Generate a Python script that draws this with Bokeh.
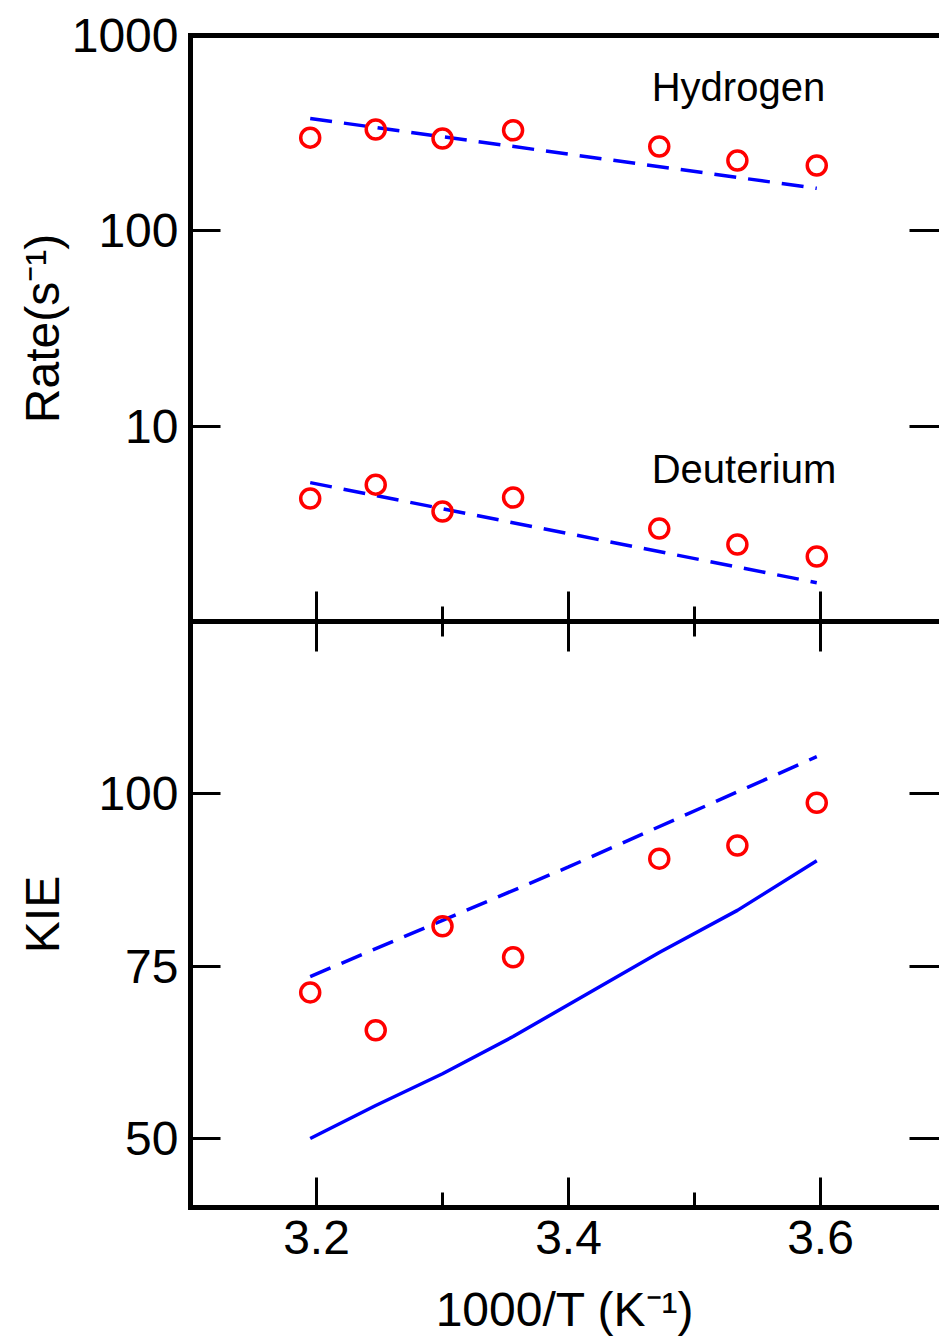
from bokeh.plotting import figure
from bokeh.layouts import column
from bokeh.models import (FixedTicker, CustomJSTickFormatter, LinearAxis, LogAxis,
                          Label, Range1d)
from bokeh.embed import file_html
from bokeh.resources import INLINE

# ---------------- data ----------------
inv_T = [3.195, 3.247, 3.300, 3.356, 3.472, 3.534, 3.597]          # 1000/T (K^-1)
rate_H = [300, 330, 297, 327, 270, 229, 216]                         # s^-1, observed
rate_D = [4.26, 5.02, 3.66, 4.31, 2.99, 2.48, 2.15]                  # s^-1, observed
fit_x = [3.195, 3.597]
fit_H = [376, 165]                                                   # dashed fit, hydrogen
fit_D = [5.14, 1.58]                                                 # dashed fit, deuterium
kie_obs = [71.2, 65.7, 80.8, 76.3, 90.6, 92.5, 98.7]                 # observed KIE
kie_fit_x = [3.195, 3.4, 3.597]
kie_fit = [73.5, 89.4, 105.4]                                        # dashed KIE
kie_calc = [50.0, 54.8, 59.4, 64.8, 77.0, 83.1, 90.3]                # solid KIE

x_major = [3.2, 3.4, 3.6]
x_minor = [3.3, 3.5]
rate_ticks = [10, 100, 1000]
kie_ticks = [50, 75, 100]

# ---------------- styling ----------------
FONT = "Liberation Sans"
TICK_FS = "48px"
LABEL_FS = "48px"
RED = "#ff0000"
BLUE = "#0000ff"
X_START, X_END = 3.1, 3.6944
W = 939
FRAME_W = 5

empty_fmt = CustomJSTickFormatter(code="return ''")
int_fmt = CustomJSTickFormatter(code="return tick.toFixed(0)")
x_fmt = CustomJSTickFormatter(code="return tick.toFixed(1)")


def style_axis(ax, ticks, minor=None, labels=True, fmt=None, line=True):
    ax.ticker = FixedTicker(ticks=ticks, minor_ticks=minor or [])
    if line:
        ax.axis_line_color = "black"
        ax.axis_line_width = FRAME_W
        ax.axis_line_cap = "square"
    else:
        ax.axis_line_color = None
    ax.major_tick_in = 30
    ax.major_tick_out = 0
    ax.major_tick_line_width = 3
    ax.major_tick_line_color = "black"
    ax.minor_tick_in = 15 if minor else 0
    ax.minor_tick_out = 0
    ax.minor_tick_line_width = 3
    ax.minor_tick_line_color = "black"
    ax.major_label_text_font = FONT
    ax.major_label_text_font_size = TICK_FS
    ax.major_label_text_color = "black"
    ax.axis_label_text_font = FONT
    ax.axis_label_text_font_size = LABEL_FS
    ax.axis_label_text_font_style = "normal"
    ax.axis_label_text_color = "black"
    if labels:
        ax.formatter = fmt
    else:
        ax.formatter = empty_fmt
        ax.major_label_standoff = 0


def border_line(p, side):
    """A plain frame edge: an axis with no ticks and no labels."""
    ax = LinearAxis()
    style_axis(ax, [], labels=False, line=True)
    p.add_layout(ax, side)


def base_fig(height, y_range, y_type, top, bottom):
    p = figure(width=W, height=height, x_range=Range1d(X_START, X_END),
               y_range=y_range, y_axis_type=y_type,
               output_backend="svg", toolbar_location=None,
               min_border_left=190, min_border_right=0,
               min_border_top=top, min_border_bottom=bottom)
    p.xgrid.visible = False
    p.ygrid.visible = False
    p.outline_line_color = None
    p.background_fill_color = "white"
    p.border_fill_color = "white"
    return p


# ---------------- top panel: rates ----------------
p1 = base_fig(621, Range1d(1, 1000), "log", 35, 0)

# bottom edge: plain line (regular axis) + inward ticks (fixed axis)
xa = p1.xaxis[0]
style_axis(xa, [], labels=False, line=True)
xt = LinearAxis(fixed_location=1)
style_axis(xt, x_major, x_minor, labels=False, line=False)
p1.add_layout(xt, "below")

border_line(p1, "above")

ya = p1.yaxis[0]
style_axis(ya, rate_ticks, labels=True, fmt=int_fmt)
ya.major_label_standoff = 12
ya.axis_label = "Rate(s\u207b\u00b9)"
ya.axis_label_standoff = 0

ra = LogAxis(fixed_location=X_END)
style_axis(ra, rate_ticks, labels=False, line=False)
p1.add_layout(ra, "right")

p1.line(fit_x, fit_H, line_color=BLUE, line_width=3.5, line_dash="22 12")
p1.line(fit_x, fit_D, line_color=BLUE, line_width=3.5, line_dash="22 12")
p1.scatter(inv_T, rate_H, marker="circle", size=19, fill_color=None,
           line_color=RED, line_width=3.5)
p1.scatter(inv_T, rate_D, marker="circle", size=19, fill_color=None,
           line_color=RED, line_width=3.5)

p1.add_layout(Label(x=3.466, y=548, text="Hydrogen", text_font=FONT,
                    text_font_size="40px", text_color="black",
                    text_baseline="alphabetic", text_align="left"))
p1.add_layout(Label(x=3.466, y=6.06, text="Deuterium", text_font=FONT,
                    text_font_size="40px", text_color="black",
                    text_baseline="alphabetic", text_align="left"))

# ---------------- bottom panel: KIE ----------------
p2 = base_fig(719, Range1d(40, 125), "linear", 0, 133)

xb = p2.xaxis[0]
style_axis(xb, x_major, x_minor, labels=True, fmt=x_fmt)
xb.major_label_standoff = 13
xb.axis_label = "1000/T (K\u207b\u00b9)"
xb.axis_label_standoff = 26

yb = p2.yaxis[0]
style_axis(yb, kie_ticks, labels=True, fmt=int_fmt)
yb.major_label_standoff = 12
yb.axis_label = "KIE"
yb.axis_label_standoff = 26

border_line(p2, "above")
ta = LinearAxis(fixed_location=125)
style_axis(ta, x_major, x_minor, labels=False, line=False)
p2.add_layout(ta, "above")

rb = LinearAxis(fixed_location=X_END)
style_axis(rb, kie_ticks, labels=False, line=False)
p2.add_layout(rb, "right")

p2.line(inv_T, kie_calc, line_color=BLUE, line_width=3.5)
p2.line(kie_fit_x, kie_fit, line_color=BLUE, line_width=3.5, line_dash="22 12")
p2.scatter(inv_T, kie_obs, marker="circle", size=19, fill_color=None,
           line_color=RED, line_width=3.5)

layout = column(p1, p2, spacing=0)

with open("out.html", "w") as f:
    f.write(file_html(layout, INLINE))
